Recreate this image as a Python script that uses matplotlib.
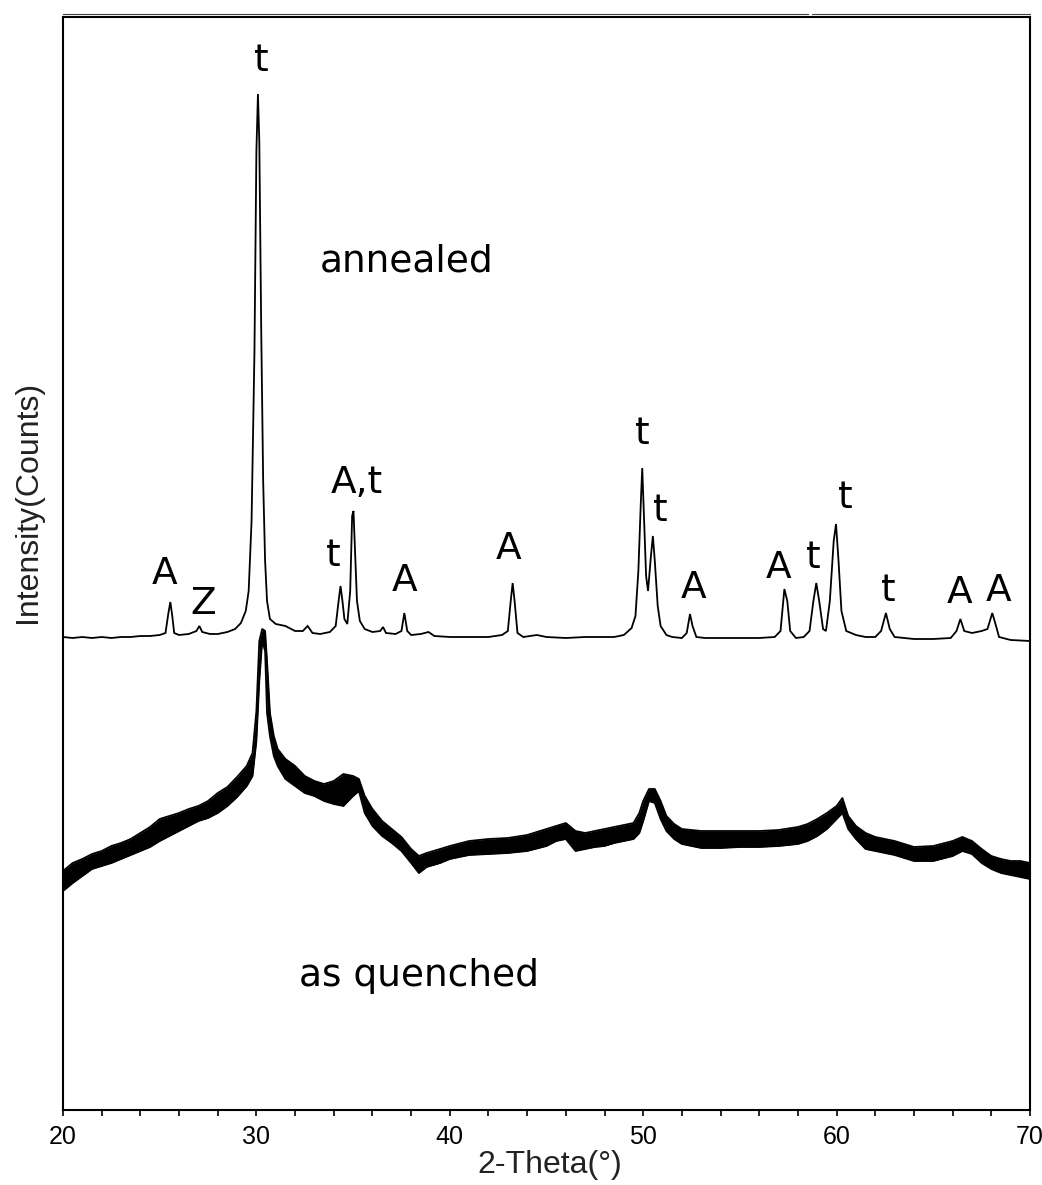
import matplotlib
matplotlib.use("Agg")
import matplotlib.pyplot as plt
from matplotlib.lines import Line2D

# ---------------- data (intensity in arbitrary counts) ----------------
annealed_2theta = [
    20.0, 20.5, 21.0, 21.5, 22.0, 22.5, 23.0, 23.5, 24.0, 24.5, 25.0, 25.3,
    25.45, 25.55, 25.65, 25.75, 26.0, 26.5, 26.9, 27.05, 27.2, 27.6, 28.0,
    28.5, 28.9, 29.2, 29.45, 29.6, 29.75, 29.9, 30.0, 30.08, 30.15, 30.25,
    30.35, 30.45, 30.55, 30.7, 31.0, 31.5, 32.0, 32.4, 32.65, 32.9, 33.3,
    33.8, 34.1, 34.25, 34.35, 34.45, 34.55, 34.7, 34.85, 34.95, 35.02, 35.1,
    35.2, 35.35, 35.6, 36.0, 36.4, 36.55, 36.7, 37.2, 37.5, 37.65, 37.8,
    38.0, 38.5, 38.9, 39.2, 40.0, 41.0, 42.0, 42.7, 43.0, 43.15, 43.25,
    43.35, 43.5, 43.8, 44.5, 45.0, 46.0, 47.0, 47.8, 48.5, 49.0, 49.4, 49.6,
    49.75, 49.88, 49.95, 50.05, 50.15, 50.25, 50.4, 50.5, 50.6, 50.75, 50.9,
    51.2, 51.5, 52.0, 52.25, 52.42, 52.55, 52.75, 53.2, 54.0, 55.0, 56.0,
    56.8, 57.1, 57.3, 57.45, 57.6, 57.9, 58.3, 58.6, 58.8, 58.95, 59.1, 59.3,
    59.45, 59.65, 59.85, 59.97, 60.1, 60.25, 60.5, 61.0, 61.5, 62.0, 62.3,
    62.55, 62.75, 63.0, 64.0, 65.0, 65.9, 66.2, 66.4, 66.6, 67.0, 67.5, 67.8,
    68.05, 68.2, 68.4, 69.0, 70.0,
]
annealed_counts = [
    473, 472, 473, 472, 473, 472, 473, 473, 474, 474, 475, 477,
    497, 508, 494, 477, 475, 476, 479, 484, 478, 476, 476,
    478, 481, 487, 499, 519, 589, 759, 959, 1016, 969, 779,
    629, 549, 509, 491, 486, 484, 479, 479, 484, 477, 476,
    478, 484, 509, 524, 509, 491, 486, 519, 594, 599, 559,
    509, 489, 481, 478, 479, 483, 477, 476, 479, 497, 479,
    475, 476, 478, 474, 473, 473, 473, 475, 479, 509, 527,
    509, 477, 473, 475, 473, 472, 473, 473, 473, 475, 482, 494,
    539, 609, 642, 589, 534, 519, 554, 574, 549, 504, 484,
    475, 473, 472, 477, 496, 484, 473, 472, 472, 472, 472,
    473, 479, 521, 509, 479, 472, 473, 479, 509, 527, 509, 481,
    479, 509, 569, 586, 549, 499, 479, 475, 473, 473, 479,
    497, 481, 473, 471, 471, 472, 479, 491, 479, 477, 479, 481,
    497, 487, 473, 470, 469,
]

quenched_2theta = [
    20.0, 20.5, 21.0, 21.5, 22.0, 22.5, 23.0, 23.5, 24.0, 24.5, 25.0, 25.5,
    26.0, 26.5, 27.0, 27.5, 28.0, 28.5, 29.0, 29.5, 29.8, 30.0, 30.15, 30.3,
    30.45, 30.55, 30.7, 30.9, 31.1, 31.5, 32.0, 32.5, 33.0, 33.5, 34.0, 34.5,
    35.0, 35.3, 35.6, 36.0, 36.5, 37.0, 37.5, 38.0, 38.4, 38.8, 39.5, 40.0,
    41.0, 42.0, 43.0, 44.0, 45.0, 45.5, 46.0, 46.5, 47.0, 47.5, 48.0, 48.5,
    49.0, 49.5, 49.8, 50.0, 50.3, 50.6, 50.9, 51.2, 51.6, 52.0, 53.0, 54.0,
    55.0, 56.0, 57.0, 58.0, 58.5, 59.0, 59.5, 60.0, 60.3, 60.6, 61.0, 61.5,
    62.0, 63.0, 64.0, 65.0, 66.0, 66.5, 67.0, 67.5, 68.0, 68.5, 69.0, 69.5,
    70.0,
]
quenched_high = [
    239, 247, 251, 256, 259, 264, 267, 271, 277, 283, 291, 294,
    297, 301, 304, 309, 317, 323, 333, 344, 357, 399, 469, 481,
    479, 449, 397, 374, 361, 351, 344, 334, 329, 326, 329, 336,
    334, 331, 314, 301, 289, 281, 273, 261, 254, 257, 261, 264,
    269, 271, 272, 275, 281, 284, 287, 279, 277, 279, 281, 283,
    285, 287, 297, 309, 321, 321, 309, 294, 286, 281, 279, 279,
    279, 279, 280, 283, 286, 291, 297, 304, 312, 294, 284, 277,
    273, 269, 263, 264, 269, 273, 269, 261, 254, 251, 249, 249,
    247,
]
quenched_low = [
    219, 227, 234, 241, 244, 247, 251, 255, 259, 263, 269, 274,
    279, 284, 289, 292, 297, 304, 313, 324, 334, 369, 429, 469,
    459, 397, 374, 354, 344, 331, 324, 317, 314, 309, 306, 304,
    314, 319, 297, 284, 274, 267, 259, 247, 237, 243, 247, 251,
    255, 256, 257, 259, 264, 269, 271, 259, 261, 263, 264, 267,
    269, 271, 277, 289, 309, 307, 291, 279, 271, 266, 262, 262,
    263, 263, 264, 266, 269, 274, 281, 291, 297, 281, 271, 261,
    259, 255, 249, 249, 254, 259, 256, 247, 241, 237, 235, 233,
    231,
]

peak_labels = ["t", "A", "Z", "t", "A,t", "A", "A", "t", "t", "A", "A",
               "t", "t", "t", "A", "A"]
curve_labels = ["annealed", "as quenched"]
x_ticks = [20, 30, 40, 50, 60, 70]
x_label = "2-Theta(°)"
y_label = "Intensity(Counts)"

# ---------------- layout ----------------
W, H = 1042, 1185
fig = plt.figure(figsize=(W / 100, H / 100), dpi=100)
ax = fig.add_axes([63 / W, 1 - 1110 / H, (1030 - 63) / W, (1110 - 17) / H])

ax.plot(annealed_2theta, annealed_counts, color="black", lw=1.3,
        solid_joinstyle="miter")
ax.fill_between(quenched_2theta, quenched_low, quenched_high,
                color="black", lw=0)
ax.plot(quenched_2theta, quenched_high, color="black", lw=1.3)
ax.plot(quenched_2theta, quenched_low, color="black", lw=1.3)

ax.set_xlim(20, 70)
ax.set_ylim(0, 1093)
ax.set_xticks(x_ticks)
ax.set_xticks(list(range(20, 71, 2)), minor=True)
ax.tick_params(axis="x", which="both", direction="out", length=4.5,
               width=1.2, labelsize=18, pad=6)
ax.set_yticks([])
for lab in ax.get_xticklabels():
    lab.set_family(["Liberation Sans", "DejaVu Sans"])
for s in ax.spines.values():
    s.set_linewidth(1.5)

fig.text(550 / W, 1 - 1165 / H, x_label, ha="center", va="center",
         fontsize=23, family=["Liberation Sans", "DejaVu Sans"],
         color="#222222")
fig.text(28 / W, 1 - 502 / H, y_label, ha="center", va="center",
         rotation=90, fontsize=23, family=["Liberation Sans", "DejaVu Sans"],
         color="#222222")

# label positions (2theta, baseline in counts)
label_pos = [(30.24, 1039), (25.27, 526), (27.24, 496), (33.96, 544),
             (35.20, 617), (37.68, 519), (43.06, 551), (49.94, 666),
             (50.87, 589), (52.58, 512), (57.02, 532), (58.78, 542),
             (60.43, 602), (62.66, 509), (66.33, 507), (68.35, 509)]
for lab, (x, y) in zip(peak_labels, label_pos):
    ax.text(x, y, lab, ha="center", va="baseline", fontsize=27,
            family="DejaVu Sans")

ax.text(37.79, 839, curve_labels[0], ha="center", va="baseline",
        fontsize=27, family="DejaVu Sans")
ax.text(38.41, 124, curve_labels[1], ha="center", va="baseline",
        fontsize=27, family="DejaVu Sans")

# cropped line remnant above the frame
fig.add_artist(Line2D([63 / W, 808 / W], [1 - 14.0 / H] * 2,
                      transform=fig.transFigure, color="#444444", lw=0.8))
fig.add_artist(Line2D([812 / W, 1030 / W], [1 - 14.0 / H] * 2,
                      transform=fig.transFigure, color="#444444", lw=0.8))

fig.savefig("out.png", dpi=100, facecolor="white")
